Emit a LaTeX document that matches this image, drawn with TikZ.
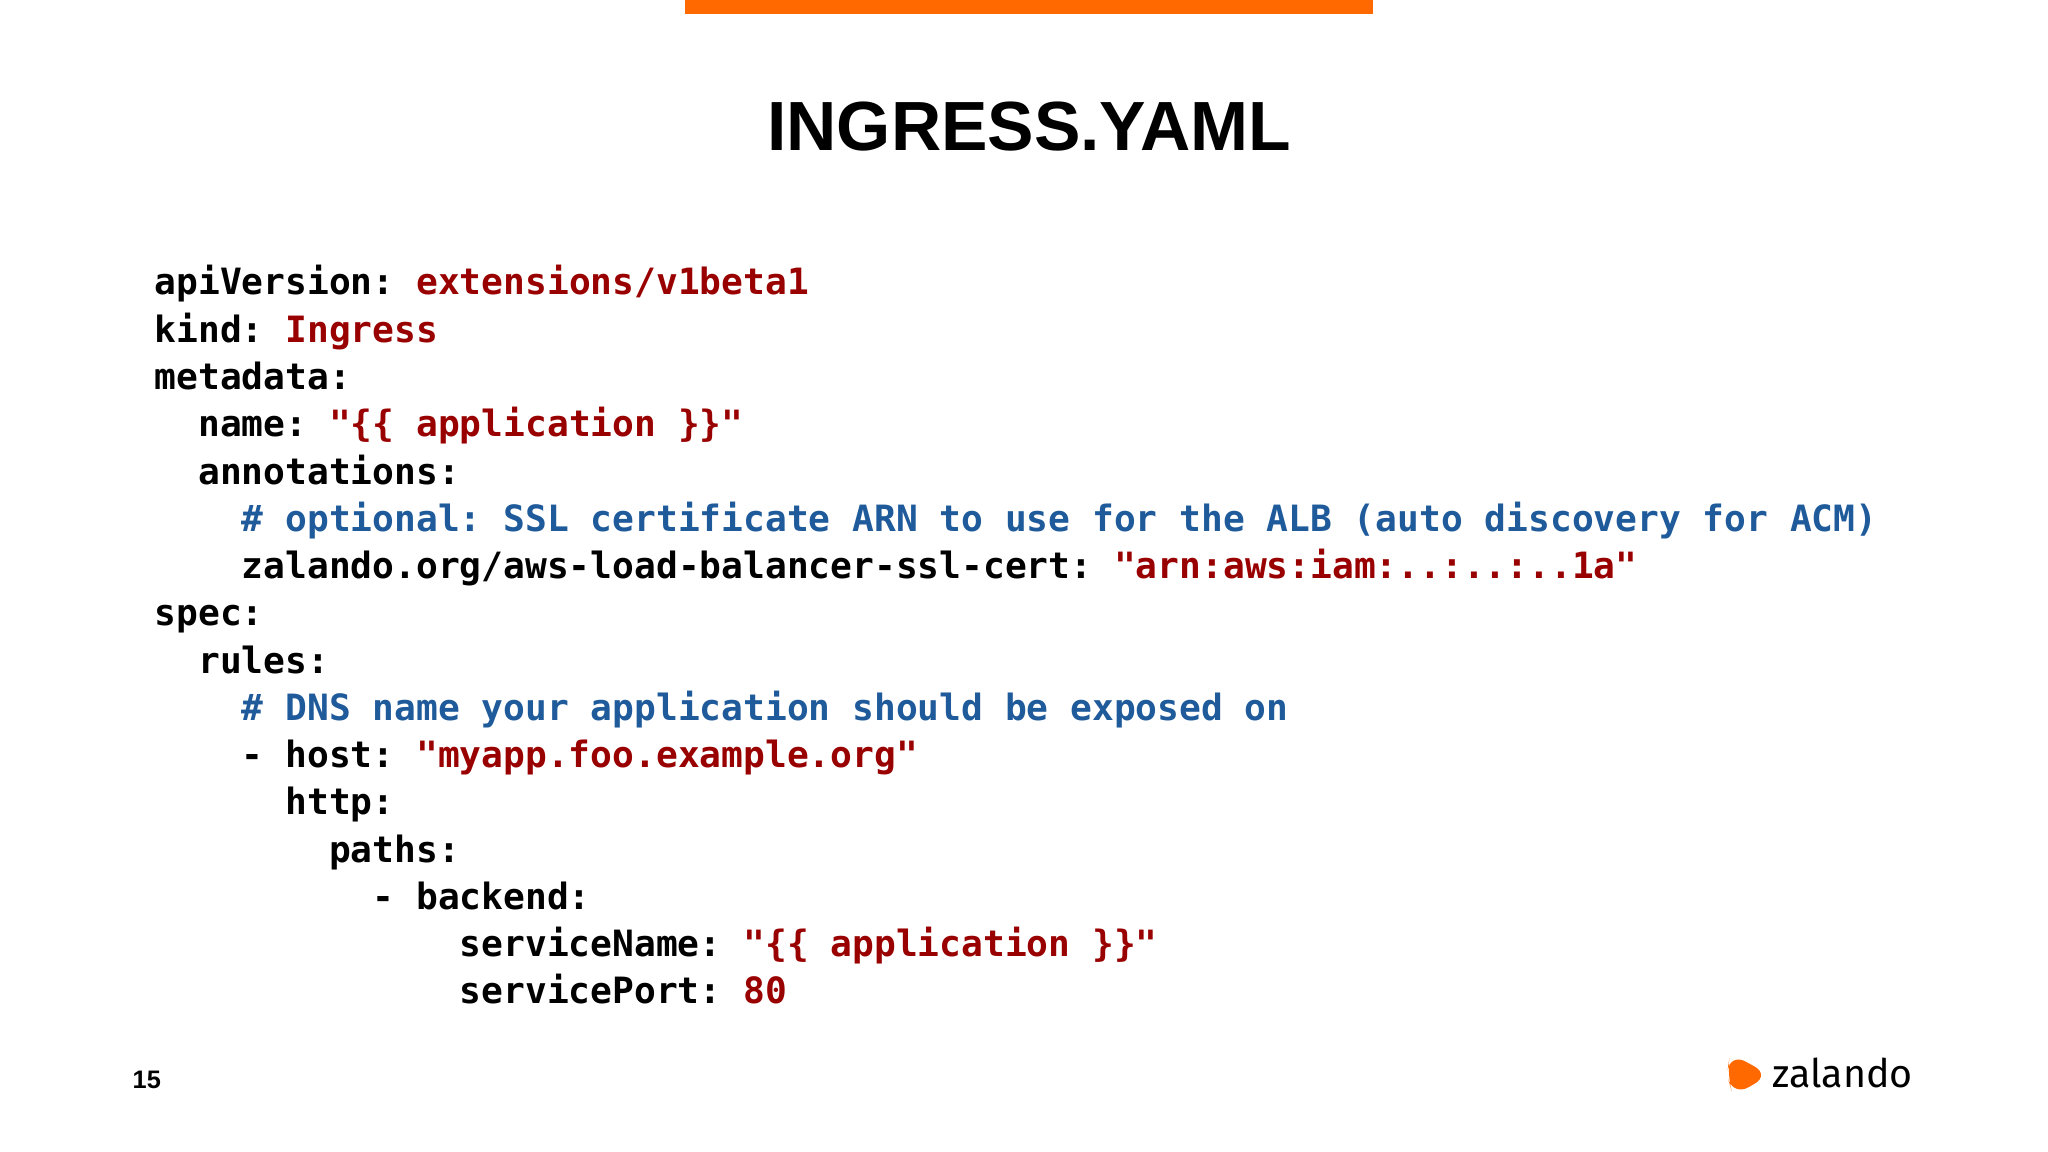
\documentclass[tikz,border=0pt]{standalone}
\usepackage{fontspec}
\setmainfont{Liberation Sans}
\newfontfamily\codefont{DejaVu Sans Mono}
\newfontfamily\logofont{Fira Sans}
\definecolor{valred}{HTML}{990000}
\definecolor{cmtblue}{HTML}{1F5B9B}
\definecolor{zorange}{HTML}{FF6900}
\newcommand{\V}[1]{\textcolor{valred}{#1}}
\newcommand{\Cm}[1]{\textcolor{cmtblue}{#1}}
\frenchspacing
\begin{document}
\begin{tikzpicture}[x=0.01cm,y=-0.01cm,
  codeline/.style={anchor=base west,inner sep=0,font=\frenchspacing\codefont\bfseries\fontsize{10.3pt}{12pt}\selectfont},
  title/.style={font=\bfseries\fontsize{19.8pt}{24pt}\selectfont,inner sep=0,anchor=base}]
\useasboundingbox (0,0) rectangle (2048,1152);
\fill[zorange] (685,0) rectangle (1373,14);
\node[title] (t) at (1029,151) {INGRESS.YAML};
\def\cw{21.8}
\foreach \n/\ind/\txt in {
 0/0/{apiVersion: \V{extensions/v1beta1}},
 1/0/{kind: \V{Ingress}},
 2/0/{metadata:},
 3/2/{name: \V{"\{\{ application \}\}"}},
 4/2/{annotations:},
 5/4/{\Cm{\# optional: SSL certificate ARN to use for the ALB (auto discovery for ACM)}},
 6/4/{zalando.org/aws-load-balancer-ssl-cert: \V{"arn:aws:iam:..:..:..1a"}},
 7/0/{spec:},
 8/2/{rules:},
 9/4/{\Cm{\# DNS name your application should be exposed on}},
 10/4/{- host: \V{"myapp.foo.example.org"}},
 11/6/{http:},
 12/8/{paths:},
 13/10/{- backend:},
 14/14/{serviceName: \V{"\{\{ application \}\}"}},
 15/14/{servicePort: \V{80}}}
 {\node[codeline] (l\n) at ({154+\ind*\cw},{295+47.26*\n}) {\txt};}
\node[anchor=base west,inner sep=0,font=\bfseries\fontsize{7.2pt}{9pt}\selectfont] (pg) at (132,1088) {15};
\fill[zorange,rounded corners=5pt] (1730,1053) -- (1770,1075) -- (1733,1096) -- (1727,1075) -- cycle;
\node[anchor=base west,inner sep=0,font=\logofont\fontsize{11.2pt}{12pt}\selectfont] (logo) at (1772,1087) {zalando};
\end{tikzpicture}
\end{document}
